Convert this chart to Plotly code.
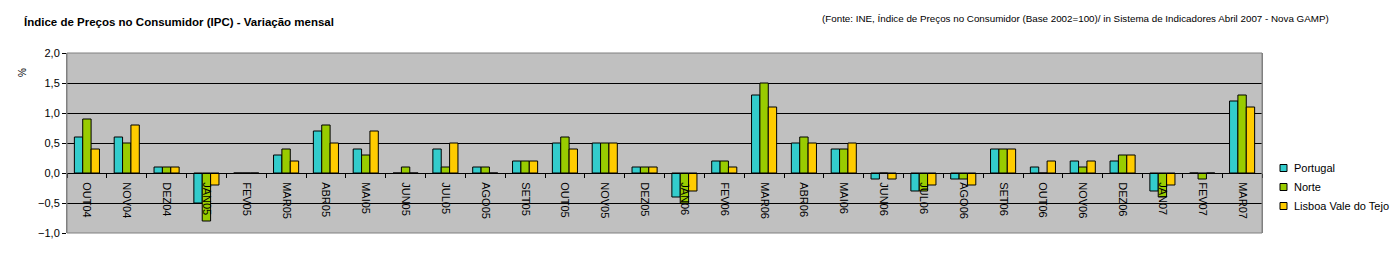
import plotly.graph_objects as go

categories = ["OUT04","NOV04","DEZ04","JAN05","FEV05","MAR05","ABR05","MAI05","JUN05","JUL05",
              "AGO05","SET05","OUT05","NOV05","DEZ05","JAN06","FEV06","MAR06","ABR06","MAI06",
              "JUN06","JUL06","AGO06","SET06","OUT06","NOV06","DEZ06","JAN07","FEV07","MAR07"]
portugal = [0.6,0.6,0.1,-0.5,0.0,0.3,0.7,0.4,0.0,0.4,
            0.1,0.2,0.5,0.5,0.1,-0.4,0.2,1.3,0.5,0.4,
            -0.1,-0.3,-0.1,0.4,0.1,0.2,0.2,-0.3,0.0,1.2]
norte = [0.9,0.5,0.1,-0.8,0.0,0.4,0.8,0.3,0.1,0.1,
         0.1,0.2,0.6,0.5,0.1,-0.5,0.2,1.5,0.6,0.4,
         0.0,-0.3,-0.1,0.4,0.0,0.1,0.3,-0.4,-0.1,1.3]
lisboa = [0.4,0.8,0.1,-0.2,0.0,0.2,0.5,0.7,0.0,0.5,
          0.0,0.2,0.4,0.5,0.1,-0.3,0.1,1.1,0.5,0.5,
          -0.1,-0.2,-0.2,0.4,0.2,0.2,0.3,-0.2,0.0,1.1]
series_names = ["Portugal", "Norte", "Lisboa Vale do Tejo"]
series_colors = ["#33CCCC", "#99CC00", "#FFCC00"]
y_ticks = [-1.0, -0.5, 0.0, 0.5, 1.0, 1.5, 2.0]

fig = go.Figure()
for name, vals, col in zip(series_names, [portugal, norte, lisboa], series_colors):
    fig.add_trace(go.Bar(x=categories, y=vals, name=name, showlegend=False,
                         marker=dict(color=col, line=dict(color="black", width=1))))

W, H = 1399, 277
ml, mr, mt, mb = 67, 137, 53, 44
ymin, ymax = -1.0, 2.0
zero_pos = (0 - ymin) / (ymax - ymin)
PW = W - ml - mr
PH = H - mt - mb

def px_x(x):
    return (x - ml) / PW

def px_y(y):
    return (H - mb - y) / PH

fig.update_layout(
    width=W, height=H,
    margin=dict(l=ml, r=mr, t=mt, b=mb, pad=0, autoexpand=False),
    paper_bgcolor="white", plot_bgcolor="#C0C0C0",
    barmode="group", bargap=0.37, bargroupgap=0.0,
    separators=",.",
    font=dict(family="Liberation Sans, Arial, sans-serif", size=11, color="black"),
    showlegend=False,
    xaxis=dict(
        type="category", anchor="free", position=zero_pos,
        showline=True, linecolor="black", linewidth=1,
        ticks="outside", ticklen=4, tickcolor="black", tickson="boundaries",
        tickangle=90, tickfont=dict(size=11), ticklabelstandoff=6,
        showgrid=False, fixedrange=True,
    ),
    yaxis=dict(
        range=[ymin, ymax], tickvals=y_ticks, tickformat=".1f",
        showline=True, linecolor="#808080", linewidth=1, mirror=True,
        ticks="outside", ticklen=4, tickcolor="black",
        showgrid=True, gridcolor="black", gridwidth=1,
        zeroline=True, zerolinecolor="black", zerolinewidth=1,
        tickfont=dict(size=11),
    ),
)
fig.add_shape(type="rect", xref="paper", yref="paper", x0=0, x1=1, y0=0, y1=1,
              line=dict(color="#808080", width=1), layer="above")

# legend (square swatch + label)
legend_y = [168, 187, 206]
for name, col, yy in zip(series_names, series_colors, legend_y):
    fig.add_shape(type="rect", xref="paper", yref="paper",
                  x0=px_x(1280), x1=px_x(1287), y0=px_y(yy + 3.5), y1=px_y(yy - 3.5),
                  fillcolor=col, line=dict(color="black", width=1))
    fig.add_annotation(text=name, xref="paper", yref="paper", x=px_x(1292), y=px_y(yy),
                       xanchor="left", yanchor="middle", showarrow=False, font=dict(size=11))

fig.add_annotation(text="<b>Índice de Preços no Consumidor (IPC) - Variação mensal</b>",
                   xref="paper", yref="paper", x=px_x(22), y=px_y(22),
                   xanchor="left", yanchor="middle", showarrow=False, font=dict(size=11.5))
fig.add_annotation(text="(Fonte: INE, Índice de Preços no Consumidor (Base 2002=100)/ in Sistema de Indicadores Abril 2007 - Nova GAMP)",
                   xref="paper", yref="paper", x=px_x(1331), y=px_y(18),
                   xanchor="right", yanchor="middle", showarrow=False, font=dict(size=9.8))
fig.add_annotation(text="%", xref="paper", yref="paper",
                   x=px_x(22), y=px_y(73),
                   xanchor="center", yanchor="middle", textangle=-90, showarrow=False, font=dict(size=10))

fig.write_html("out.html")
